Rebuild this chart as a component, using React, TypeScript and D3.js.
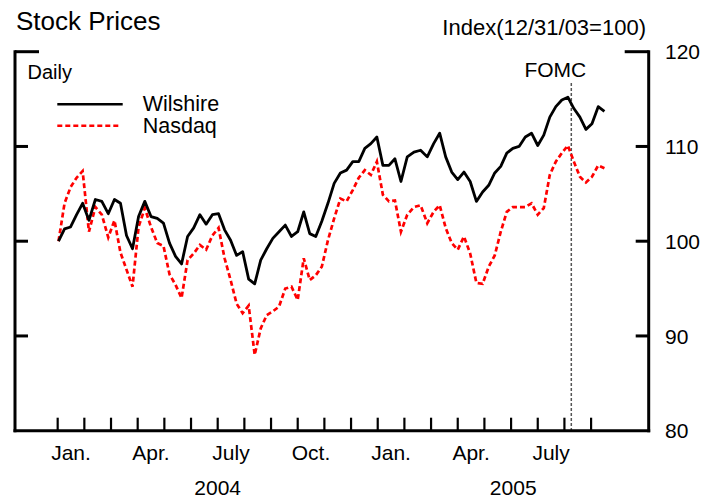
import React from 'react';
import * as d3 from 'd3';

// weekly readings (Fridays from Jan 2, 2004), index 12/31/03 = 100
const wilshire = [
  100.0, 101.3, 101.5, 102.8, 104.0, 102.2, 104.4, 104.2, 102.9, 104.4,
  104.0, 100.6, 99.2, 102.6, 104.2, 102.6, 102.4, 101.9, 99.8, 98.4,
  97.6, 100.5, 101.4, 102.8, 101.8, 102.8, 102.9, 101.2, 100.1, 98.5,
  98.9, 96.0, 95.5, 98.0, 99.2, 100.3, 101.0, 101.7, 100.5, 101.0,
  103.1, 100.8, 100.5, 102.1, 104.0, 106.1, 107.2, 107.5, 108.4, 108.4,
  109.8, 110.3, 111.0, 108.0, 108.0, 108.7, 106.3, 108.9, 109.4, 109.6,
  108.9, 110.3, 111.4, 108.9, 107.3, 106.5, 107.3, 106.3, 104.2, 105.2,
  105.9, 107.2, 107.9, 109.3, 109.8, 110.0, 111.0, 111.4, 110.1, 111.2,
  113.1, 114.2, 114.9, 115.2, 114.0, 113.1, 111.8, 112.4, 114.2, 113.7,
];
const nasdaq = [
  100.0, 104.0, 105.7, 106.7, 107.4, 101.0, 103.6, 102.8, 100.4, 102.2,
  98.8, 97.0, 95.2, 101.5, 103.5, 101.5, 99.8, 99.5, 96.5, 95.4,
  94.0, 98.0, 98.7, 99.6, 99.1, 100.6, 101.4, 98.2, 95.9, 93.4,
  92.4, 93.2, 88.0, 90.8, 92.2, 92.6, 93.1, 95.0, 95.2, 93.8,
  98.2, 95.9, 96.4, 97.3, 100.1, 102.4, 104.5, 104.2, 105.4, 106.7,
  107.5, 107.0, 108.4, 104.9, 104.2, 104.3, 101.0, 102.8, 103.6, 103.8,
  101.9, 103.1, 103.8, 101.4, 99.8, 99.1, 100.5, 98.7, 95.6, 95.5,
  97.3, 98.5, 101.0, 103.1, 103.6, 103.6, 103.6, 104.0, 102.8, 103.5,
  107.0, 108.4, 109.3, 110.1, 108.4, 106.8, 106.2, 106.8, 108.0, 107.7,
];
const monthLabels = ['Jan.', 'Apr.', 'July', 'Oct.', 'Jan.', 'Apr.', 'July'];
const monthLabelAt = [0, 3, 6, 9, 12, 15, 18];
const yearLabels = ['2004', '2005'];
const yTicks = [80, 90, 100, 110, 120];
const firstWeek = new Date(2004, 0, 2);
const fomcDate = new Date(2005, 7, 9);

const dates = wilshire.map((_, i) => d3.timeDay.offset(firstWeek, 7 * i));

// months are drawn with equal widths, so position by fractional month
const monthIndex = (d: Date) => {
  const days = new Date(d.getFullYear(), d.getMonth() + 1, 0).getDate();
  return (d.getFullYear() - 2004) * 12 + d.getMonth() + (d.getDate() - 1) / days;
};

const FONT = '"Liberation Sans", Arial, Helvetica, sans-serif';

export default function App() {
  const left = 15;
  const right = 648.7;
  const top = 51.7;
  const bottom = 430.7;

  const x = d3.scaleLinear().domain([-1.6, 22.16]).range([left, right]);
  const y = d3.scaleLinear().domain([80, 120]).range([bottom, top]);

  const line = d3
    .line<number>()
    .x((_, i) => x(monthIndex(dates[i])))
    .y((v) => y(v));

  const fomcX = x(monthIndex(fomcDate));
  const monthTicks = d3.range(0, 21);

  return (
    <svg
      width={717}
      height={498}
      style={{ position: 'absolute', left: 0, top: 0, display: 'block', background: '#fff' }}
      fontFamily={FONT}
    >
      <text x={16} y={30} fontSize={26}>Stock Prices</text>
      <text x={646} y={35} fontSize={22} textAnchor="end">Index(12/31/03=100)</text>
      <text x={27.5} y={79} fontSize={20}>Daily</text>

      {/* legend */}
      <line x1={57.3} x2={122.7} y1={104.3} y2={104.3} stroke="#000" strokeWidth={2.5} />
      <text x={142.7} y={111} fontSize={21.5}>Wilshire</text>
      <line x1={57.3} x2={120} y1={125.7} y2={125.7} stroke="#ff0000" strokeWidth={2.5} strokeDasharray="5,3" />
      <text x={142.7} y={132.8} fontSize={21.5}>Nasdaq</text>

      {/* FOMC marker */}
      <line x1={fomcX} x2={fomcX} y1={83} y2={bottom} stroke="#555" strokeWidth={1.5} strokeDasharray="3,2" />
      <text x={fomcX - 16} y={77.3} fontSize={21} textAnchor="middle">FOMC</text>

      {/* series */}
      <path d={line(nasdaq) ?? ''} fill="none" stroke="#ff0000" strokeWidth={2.7} strokeDasharray="5,3" />
      <path d={line(wilshire) ?? ''} fill="none" stroke="#000" strokeWidth={2.8} strokeLinejoin="round" />

      {/* frame */}
      <line x1={left} x2={left} y1={top - 1.5} y2={bottom + 1.5} stroke="#000" strokeWidth={3} />
      <line x1={right} x2={right} y1={top - 1.5} y2={bottom + 1.5} stroke="#000" strokeWidth={3} />
      <line x1={left - 1.5} x2={right + 1.5} y1={bottom} y2={bottom} stroke="#000" strokeWidth={3} />

      {yTicks.filter((t) => t > 80).map((t) => {
        const len = t === 120 ? 24 : 13;
        return (
          <g key={t}>
            <line x1={left} x2={left + len} y1={y(t)} y2={y(t)} stroke="#000" strokeWidth={3} />
            <line x1={right - len} x2={right} y1={y(t)} y2={y(t)} stroke="#000" strokeWidth={3} />
          </g>
        );
      })}
      {yTicks.map((t) => (
        <text key={t} x={665} y={y(t)} dy="0.36em" fontSize={21}>{t}</text>
      ))}

      {monthTicks.map((k) => (
        <line key={k} x1={x(k)} x2={x(k)} y1={bottom - 13} y2={bottom} stroke="#000" strokeWidth={2.2} />
      ))}
      {monthLabels.map((m, i) => (
        <text key={i} x={x(monthLabelAt[i] + 0.5)} y={460} fontSize={21} textAnchor="middle">{m}</text>
      ))}
      <text x={x(6)} y={495} fontSize={21} textAnchor="middle">{yearLabels[0]}</text>
      <text x={x((12 + 22.16) / 2)} y={495} fontSize={21} textAnchor="middle">{yearLabels[1]}</text>
    </svg>
  );
}
